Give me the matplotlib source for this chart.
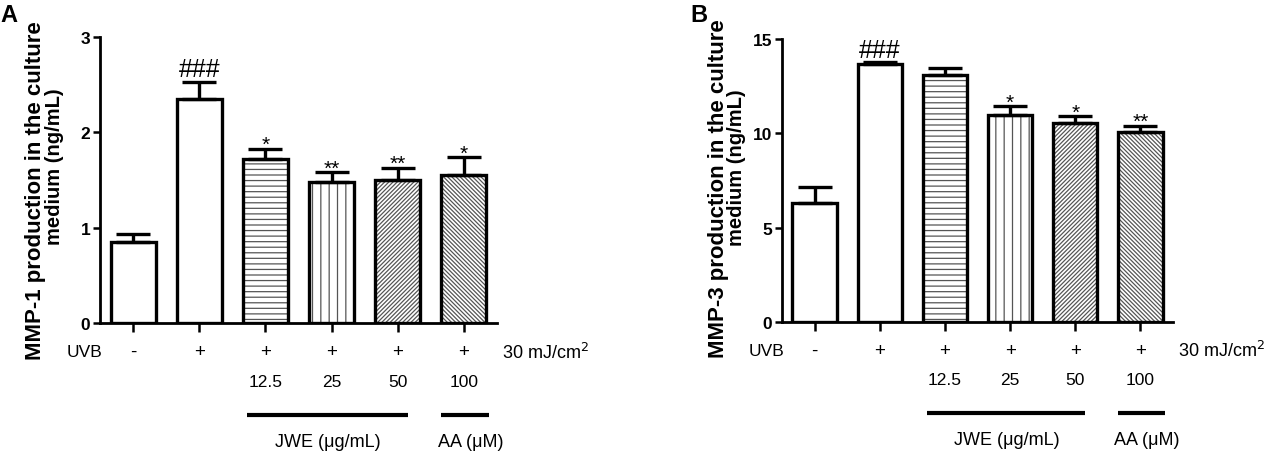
import matplotlib
matplotlib.use("Agg")
import matplotlib.pyplot as plt
import numpy as np

plt.rcParams['font.family'] = ['Liberation Sans', 'DejaVu Sans']
plt.rcParams['hatch.linewidth'] = 0.9

# ---- data ----
groups = ['Control', 'UVB', 'JWE 12.5', 'JWE 25', 'JWE 50', 'AA 100']
uvb_labels = ['-', '+', '+', '+', '+', '+']
dose_labels = ['', '', '12.5', '25', '50', '100']
hatches = ['', '', '---', '||', '////////', '\\' * 8]

mmp1_mean = [0.85, 2.35, 1.72, 1.48, 1.50, 1.55]
mmp1_sem = [0.08, 0.18, 0.11, 0.10, 0.13, 0.19]
mmp1_sig = ['', '###', '*', '**', '**', '*']

mmp3_mean = [6.30, 13.65, 13.10, 10.95, 10.55, 10.05]
mmp3_sem = [0.85, 0.12, 0.38, 0.50, 0.35, 0.35]
mmp3_sig = ['', '###', '', '*', '*', '**']

panels = [
    dict(letter='A', mean=mmp1_mean, sem=mmp1_sem, sig=mmp1_sig, ylim=3, ticks=[0, 1, 2, 3],
         line1='MMP-1 production in the culture', rect=[0.0786, 0.2895, 0.3118, 0.6272],
         letter_x=0.0),
    dict(letter='B', mean=mmp3_mean, sem=mmp3_sem, sig=mmp3_sig, ylim=15, ticks=[0, 5, 10, 15],
         line1='MMP-3 production in the culture', rect=[0.6143, 0.2917, 0.3072, 0.6206],
         letter_x=0.542),
]

fig = plt.figure(figsize=(12.73, 4.56), dpi=100)
x = np.arange(len(groups))
width = 0.68

for p in panels:
    ax = fig.add_axes(p['rect'])
    # hatch layer
    ax.bar(x, p['mean'], width, color='white', edgecolor='#555555', hatch=hatches,
           linewidth=0, zorder=2)
    # outline layer
    ax.bar(x, p['mean'], width, fill=False, edgecolor='black', linewidth=2.4, zorder=3)
    ax.errorbar(x, p['mean'], yerr=[np.zeros(len(x)), p['sem']], fmt='none',
                ecolor='black', elinewidth=2.4, capsize=12, capthick=2.4, zorder=4)
    tops = np.array(p['mean']) + np.array(p['sem'])
    for xi, t, s in zip(x, tops, p['sig']):
        if not s:
            continue
        if '#' in s:
            ax.annotate(s, (xi, t), xytext=(0, 4), textcoords='offset points',
                        ha='center', va='baseline', fontsize=18)
        else:
            ax.annotate(s, (xi, t), xytext=(0, -1), textcoords='offset points',
                        ha='center', va='baseline', fontsize=15)

    ax.set_xlim(-0.5, 5.5)
    ax.set_ylim(0, p['ylim'])
    ax.set_yticks(p['ticks'])
    ax.set_yticklabels([str(t) for t in p['ticks']], fontweight='bold', fontsize=12.5)
    ax.set_xticks(x)
    ax.set_xticklabels([])
    for s in ['top', 'right']:
        ax.spines[s].set_visible(False)
    for s in ['left', 'bottom']:
        ax.spines[s].set_linewidth(2)
    ax.tick_params(axis='y', length=5, width=1.8, pad=2)
    ax.tick_params(axis='x', length=6.5, width=1.8)

    tr = ax.get_xaxis_transform()
    # y-label (two lines)
    ax.text(-0.163, -0.125, p['line1'], transform=ax.transAxes, rotation=90,
            ha='center', va='bottom', fontsize=16, fontweight='bold')
    ax.text(-0.116, 0.55, 'medium (ng/mL)', transform=ax.transAxes, rotation=90,
            ha='center', va='center', fontsize=14.5, fontweight='bold')

    # treatment rows
    ax.text(-0.74, -0.10, 'UVB', transform=tr, ha='center', va='center', fontsize=12.5)
    for xi, u, d in zip(x, uvb_labels, dose_labels):
        ax.text(xi, -0.10, u, transform=tr, ha='center', va='center', fontsize=13.5)
        if d:
            ax.text(xi, -0.205, d, transform=tr, ha='center', va='center', fontsize=12.5)
    ax.text(5.58, -0.10, '30 mJ/cm$^2$', transform=tr, ha='left', va='center', fontsize=13)
    ax.plot([1.72, 4.15], [-0.32, -0.32], transform=tr, color='black', lw=3,
            clip_on=False, solid_capstyle='butt')
    ax.plot([4.65, 5.38], [-0.32, -0.32], transform=tr, color='black', lw=3,
            clip_on=False, solid_capstyle='butt')
    ax.text(2.95, -0.415, 'JWE (\u03bcg/mL)', transform=tr, ha='center', va='center', fontsize=13)
    ax.text(5.1, -0.415, 'AA (\u03bcM)', transform=tr, ha='center', va='center', fontsize=13)

    fig.text(p['letter_x'], 1 - 22 / 456, p['letter'], fontsize=17, fontweight='bold',
             ha='left', va='baseline')

fig.savefig('out.png', dpi=100)
